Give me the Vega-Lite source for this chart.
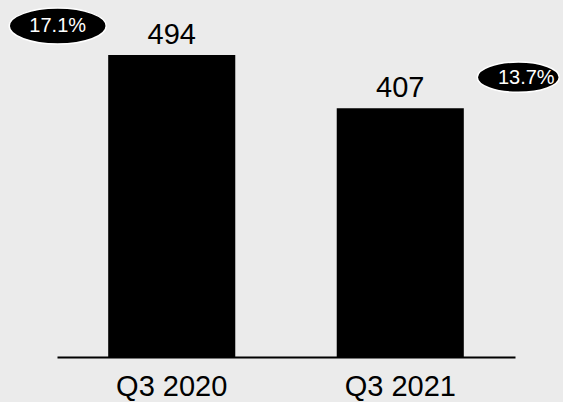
{
  "$schema": "https://vega.github.io/schema/vega-lite/v6.json",
  "autosize": "none",
  "width": 458,
  "height": 357,
  "padding": {"left": 57, "top": 0, "right": 48, "bottom": 45},
  "background": "#ebebeb",
  "config": {
    "view": {"stroke": null},
    "font": "Liberation Sans"
  },
  "data": {
    "values": [
      {"quarter": "Q3 2020", "value": 494, "margin": "17.1%"},
      {"quarter": "Q3 2021", "value": 407, "margin": "13.7%"}
    ]
  },
  "encoding": {
    "x": {
      "field": "quarter",
      "type": "nominal",
      "sort": null,
      "scale": {"paddingInner": 0.444, "paddingOuter": 0.224},
      "axis": {
        "title": null,
        "ticks": false,
        "domainColor": "black",
        "domainWidth": 2,
        "labelFontSize": 29,
        "labelColor": "black",
        "labelAngle": 0,
        "labelPadding": 15,
        "labelFont": "Liberation Sans"
      }
    },
    "y": {
      "field": "value",
      "type": "quantitative",
      "scale": {"domain": [0, 584], "nice": false, "zero": true},
      "axis": null
    }
  },
  "layer": [
    {"mark": {"type": "bar", "color": "black"}},
    {
      "mark": {"type": "text", "baseline": "alphabetic", "dy": -11, "fontSize": 29, "color": "black", "font": "Liberation Sans"},
      "encoding": {"text": {"field": "value", "type": "quantitative"}}
    },
    {
      "mark": {
        "type": "point",
        "shape": "M-1,0 C-1,-0.2043 -0.552,-0.37 0,-0.37 C0.552,-0.37 1,-0.2043 1,0 C1,0.2043 0.552,0.37 0,0.37 C-0.552,0.37 -1,0.2043 -1,0 Z",
        "filled": true,
        "fill": "black",
        "stroke": "white",
        "strokeWidth": 1.5,
        "opacity": 1,
        "size": {"expr": "datum.quarter == 'Q3 2020' ? 9409 : 6724"},
        "xOffset": {"expr": "datum.quarter == 'Q3 2020' ? -114 : 118"},
        "yOffset": {"expr": "datum.quarter == 'Q3 2020' ? -29 : -31"}
      }
    },
    {
      "mark": {
        "type": "text",
        "baseline": "middle",
        "fontSize": 20,
        "color": "white",
        "font": "Liberation Sans",
        "xOffset": {"expr": "datum.quarter == 'Q3 2020' ? -114 : 126"},
        "yOffset": {"expr": "datum.quarter == 'Q3 2020' ? -29 : -30"}
      },
      "encoding": {"text": {"field": "margin", "type": "nominal"}}
    }
  ]
}
